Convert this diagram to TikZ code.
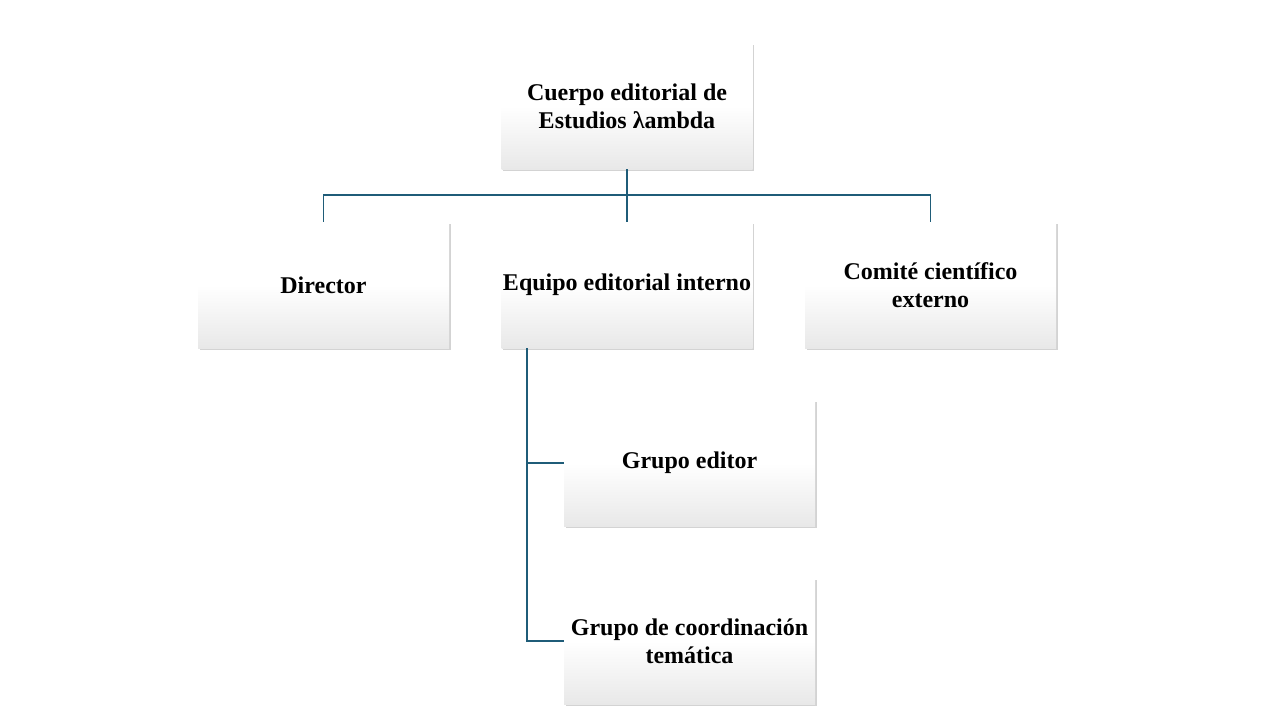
\documentclass[tikz,border=0pt]{standalone}
\usepackage{fontspec}
\setmainfont{Liberation Serif}
\usetikzlibrary{shadows}
\definecolor{lnc}{HTML}{1F5C78}
\pgfdeclareverticalshading{boxshade}{100bp}{color(0bp)=(black!13); color(25bp)=(black!9); color(50bp)=(white); color(100bp)=(white)}
\tikzset{box/.style={minimum width=251pt,minimum height=126pt,align=center,inner sep=1pt,
  shading=boxshade,draw=none,
  drop shadow={shadow xshift=1.5pt,shadow yshift=-2pt,opacity=0.35},font=\bfseries\fontsize{24}{28}\selectfont},
  ln/.style={draw=lnc,line width=1.5pt}}
\begin{document}
\begin{tikzpicture}[x=1pt,y=-1pt]
\useasboundingbox (0,0) rectangle (1280,720);
\node[box] (top) at (627,106) {Cuerpo editorial de\\Estudios λambda};
\node[box] (dir) at (323.5,285) {Director};
\node[box] (eq) at (627,285) {Equipo editorial interno};
\node[box] (com) at (930.5,285) {Comité científico\\externo};
\node[box] (ge) at (689.5,463) {Grupo editor};
\node[box] (gc) at (689.5,641) {Grupo de coordinación\\temática};
\coordinate (h) at (627,195);
\draw[ln] (top.south) -- (h) -- (eq.north);
\draw[ln] (dir.north) |- (h) -| (com.north);
\coordinate (s) at (527,348);
\draw[ln] (s) |- (ge.west);
\draw[ln] (s) |- (gc.west);
\end{tikzpicture}
\end{document}
